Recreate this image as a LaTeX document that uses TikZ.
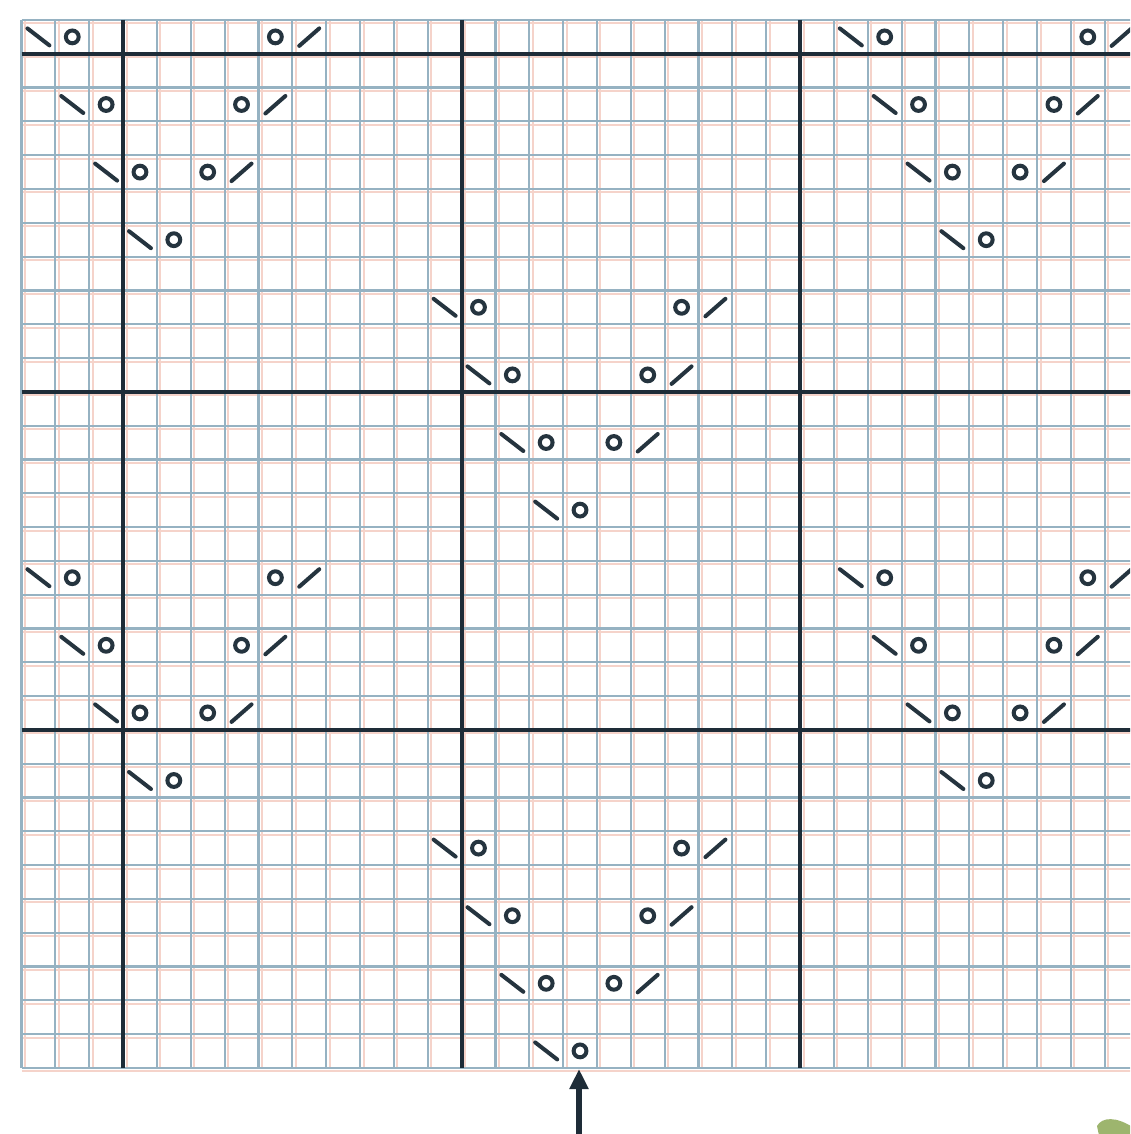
\documentclass[tikz,border=0pt]{standalone}
\usetikzlibrary{arrows.meta}
\definecolor{thinblue}{HTML}{96B2C2}
\definecolor{pinkish}{HTML}{F5D3CA}
\definecolor{darkline}{HTML}{1E2C38}
\definecolor{symcol}{HTML}{25343F}
\definecolor{leafgreen}{HTML}{9DB56E}
\newcommand\cx[1]{21.5+(#1+0.5)*33.85}
\newcommand\cy[1]{20+(#1+0.5)*33.8}
% "\" then O
\newcommand\kdecL[2]{%
  \draw[symline] ({\cx{#1}-11},{\cy{#2}-8.5}) -- ({\cx{#1}+11},{\cy{#2}+8.5});
  \node[yo] (yoL-#1-#2) at ({\cx{#1+1}},{\cy{#2}}) {};
}
% O then "/"
\newcommand\kdecR[2]{%
  \node[yo] (yoR-#1-#2) at ({\cx{#1}},{\cy{#2}}) {};
  \draw[symline] ({\cx{#1+1}-10},{\cy{#2}+9}) -- ({\cx{#1+1}+10},{\cy{#2}-8.5});
}
\begin{document}
\begin{tikzpicture}[x=0.5pt,y=-0.5pt,
  thingrid/.style={draw=thinblue,line width=1.1pt},
  pinkgrid/.style={draw=pinkish,line width=1pt},
  thickgrid/.style={draw=darkline,line width=2pt},
  symline/.style={draw=symcol,line width=2pt,line cap=round},
  yo/.style={circle,draw=symcol,line width=2pt,minimum size=6.4pt,inner sep=0pt},
  arr/.style={draw=darkline,line width=2.6pt,-{Triangle[width=9pt,length=10pt]}},
  leaf/.style={fill=leafgreen}]
\useasboundingbox (0,0) rectangle (1130,1134);
\clip (0,0) rectangle (1130,1134);
\fill[white] (0,0) rectangle (1130,1134);
% pink offset lines
\foreach \i in {0,...,33} {
  \draw[pinkgrid] ({21.5+\i*33.85+3.5},20) -- ({21.5+\i*33.85+3.5},1068);
}
\foreach \j in {0,...,31} {
  \draw[pinkgrid] (21.5,{20+\j*33.8+3.5}) -- (1140,{20+\j*33.8+3.5});
}
% thin grid
\foreach \i in {0,...,33} {
  \draw[thingrid] ({21.5+\i*33.85},20) -- ({21.5+\i*33.85},1068);
}
\foreach \j in {0,...,31} {
  \draw[thingrid] (21.5,{20+\j*33.8}) -- (1140,{20+\j*33.8});
}
% thick grid
\foreach \i in {3,13,23} {
  \draw[thickgrid] ({21.5+\i*33.85},20) -- ({21.5+\i*33.85},1068);
}
\foreach \j in {1,11,21} {
  \draw[thickgrid] (21.5,{20+\j*33.8}) -- (1140,{20+\j*33.8});
}
% symbols
\foreach \b in {0,16} {
  \pgfmathtruncatemacro\ra{\b+0}
  \pgfmathtruncatemacro\rb{\b+2}
  \pgfmathtruncatemacro\rc{\b+4}
  \pgfmathtruncatemacro\rd{\b+6}
  \pgfmathtruncatemacro\re{\b+8}
  \pgfmathtruncatemacro\rf{\b+10}
  \pgfmathtruncatemacro\rg{\b+12}
  \pgfmathtruncatemacro\rh{\b+14}
  \kdecL{0}{\ra} \kdecR{7}{\ra} \kdecL{24}{\ra} \kdecR{31}{\ra}
  \kdecL{1}{\rb} \kdecR{6}{\rb} \kdecL{25}{\rb} \kdecR{30}{\rb}
  \kdecL{2}{\rc} \kdecR{5}{\rc} \kdecL{26}{\rc} \kdecR{29}{\rc}
  \kdecL{3}{\rd} \kdecL{27}{\rd}
  \kdecL{12}{\re} \kdecR{19}{\re}
  \kdecL{13}{\rf} \kdecR{18}{\rf}
  \kdecL{14}{\rg} \kdecR{17}{\rg}
  \kdecL{15}{\rh}
}
% arrow
\coordinate (arrTail) at (579,1134);
\coordinate (arrHead) at (579,1069);
\draw[arr] (arrTail) -- (arrHead);
% leaf fragment
\fill[leaf] (1097,1126) .. controls (1102,1117) and (1116,1116) .. (1134,1128) -- (1134,1140) -- (1100,1140) -- cycle;
\end{tikzpicture}
\end{document}
